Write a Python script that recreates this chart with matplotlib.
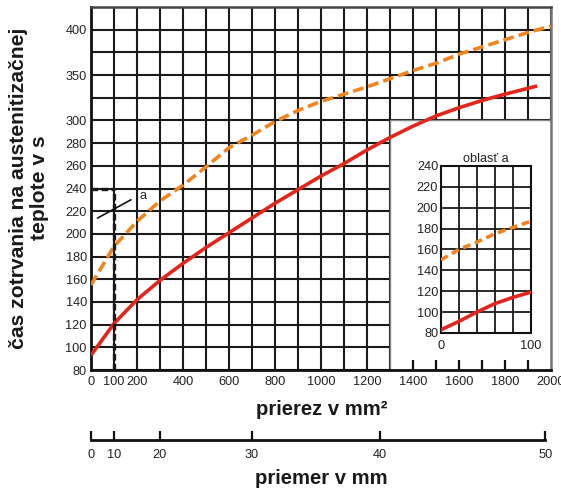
import numpy as np
import matplotlib
matplotlib.use('Agg')
import matplotlib.pyplot as plt
from matplotlib.patches import Rectangle

plt.rcParams['font.family'] = ['Liberation Sans', 'DejaVu Sans']

# --- data ---
# prierez (mm^2) vs cas zotrvania (s)
prierez_red = [0, 100, 200, 300, 400, 500, 600, 700, 800, 900, 1000,
               1100, 1200, 1300, 1400, 1500, 1600, 1700, 1800, 1940]
cas_red = [93, 121, 142, 159, 174, 188, 201, 214, 227, 239, 251,
           262, 274, 285, 295, 305, 314, 322, 329, 338]

prierez_orange = [0, 100, 200, 300, 400, 500, 600, 700, 800, 900, 1000,
                  1100, 1200, 1300, 1400, 1500, 1600, 1700, 1800, 1900, 2000]
cas_orange = [155, 189, 211, 229, 243, 259, 276, 287, 299, 311, 321,
              329, 337, 346, 355, 363, 373, 381, 389, 397, 404]

# oblast a (detail 0..100 mm^2)
detail_x = [0, 20, 40, 60, 80, 100]
detail_red = [83, 91, 100, 108, 114, 119]
detail_orange = [150, 160, 167, 175, 181, 187]

# reading example for 100 mm^2
odcitanie_x = 100
odcitanie_y = 240

# tick labels
x_major = [0, 100, 200, 400, 600, 800, 1000, 1200, 1400, 1600, 1800, 2000]
x_minor = [300, 500, 700, 900, 1100, 1300, 1500, 1700, 1900]
y_major = [80, 100, 120, 140, 160, 180, 200, 220, 240, 260, 280, 300, 350, 400]
y_minor = [325, 375]
priemer = [0, 10, 20, 30, 40, 50]
priemer_pos = [0, 100, 300, 700, 1255, 1975]   # position on prierez axis

RED = '#e2261c'
ORANGE = '#f0841f'
GRID = '#1a1a1a'
FS = 9.2


# y axis: 20 s per row up to 300, then 25 s per row
def fwd(v):
    v = np.asarray(v, dtype=float)
    return np.where(v <= 300, (v - 80) / 20.0, 11 + (v - 300) / 25.0)


def inv(r):
    r = np.asarray(r, dtype=float)
    return np.where(r <= 11, 80 + 20.0 * r, 300 + 25.0 * (r - 11))


fig = plt.figure(figsize=(5.61, 4.91), dpi=100)
ax = fig.add_axes([0.1622, 0.2464, 0.820, 0.7393])
ax.set_yscale('function', functions=(fwd, inv))
ax.set_xlim(0, 2000)
ax.set_ylim(80, 425)
ax.set_axisbelow(True)

ax.set_xticks(x_major)
ax.set_xticks(x_minor, minor=True)
ax.set_yticks(y_major)
ax.set_yticks(y_minor, minor=True)
ax.set_yticklabels([str(v) for v in y_major])
ax.set_xticklabels([str(v) for v in x_major])
ax.tick_params(which='both', length=0, labelsize=FS, colors='#222')
ax.tick_params(axis='x', pad=4)
ax.tick_params(axis='y', pad=3)
ax.grid(True, which='both', color=GRID, lw=1.5)

for s in ['left', 'bottom']:
    ax.spines[s].set_linewidth(2)
    ax.spines[s].set_color('#111')
ax.spines['top'].set_color('#444')
ax.spines['top'].set_linewidth(1.8)
ax.spines['right'].set_color('#777')
ax.spines['right'].set_linewidth(1.8)

# white area for the detail
ax.add_patch(Rectangle((1300, 80), 700, 220, facecolor='white',
                       edgecolor='#888', lw=1, zorder=1))

ax.plot(prierez_red, cas_red, color=RED, lw=2.6, zorder=3,
        solid_capstyle='butt')
ax.plot(prierez_orange, cas_orange, color=ORANGE, lw=2.6, zorder=3,
        dashes=(3.0, 1.4))

# reading example
ax.plot([odcitanie_x, odcitanie_x], [80, odcitanie_y], color=GRID, lw=2.4,
        dashes=(2.0, 1.0), zorder=4)
ax.plot([0, odcitanie_x], [odcitanie_y, odcitanie_y], color=GRID, lw=2.4,
        dashes=(2.0, 1.0), zorder=4)
ax.plot([29, 173], [214, 230], color='#111', lw=1.2, zorder=4)
ax.text(227, 233, 'a', fontsize=FS, ha='center', va='center', color='#222')

# inward ticks on the bottom of the white area
box = ax.inset_axes([1300, 80, 700, 220], transform=ax.transData)
box.set_facecolor('none')
box.set_xlim(1300, 2000)
box.set_xticks(range(1400, 2000, 100))
box.set_yticks([])
box.tick_params(axis='x', direction='in', length=7, width=1.6,
                labelbottom=False, color='#111')
for s in box.spines.values():
    s.set_visible(False)

# detail "oblast a"
ins = fig.add_axes([0.786, 0.322, 0.160, 0.340])
ins.set_xlim(0, 100)
ins.set_ylim(80, 240)
ins.set_xticks(detail_x)
ins.set_xticklabels(['0', '', '', '', '', '100'])
ins.set_yticks(range(80, 241, 20))
ins.tick_params(length=0, labelsize=FS, colors='#222')
ins.tick_params(axis='x', pad=5)
ins.tick_params(axis='y', pad=2)
ins.grid(True, color=GRID, lw=1.3)
ins.set_axisbelow(True)
for s in ins.spines.values():
    s.set_linewidth(1.5)
    s.set_color('#111')
ins.plot(detail_x, detail_red, color=RED, lw=2.6, zorder=3)
ins.plot(detail_x, detail_orange, color=ORANGE, lw=2.6, zorder=3,
         dashes=(2.2, 1.3))
ins.set_title('oblasť a', fontsize=FS, pad=3, color='#222')

# second axis: priemer
ax2 = fig.add_axes([0.1622, 0.1029, 0.820, 0.0001])
ax2.set_xlim(0, 2000)
ax2.set_yticks([])
for s in ['top', 'left', 'right']:
    ax2.spines[s].set_visible(False)
ax2.spines['bottom'].set_linewidth(2)
ax2.spines['bottom'].set_color('#111')
ax2.spines['bottom'].set_bounds(0, priemer_pos[-1])
ax2.set_xticks(priemer_pos)
ax2.set_xticklabels([str(d) for d in priemer])
ax2.tick_params(axis='x', direction='in', length=6.5, width=1.6,
                labelsize=FS, pad=6, color='#111', labelcolor='#222')
ax2.patch.set_visible(False)

# axis titles
fig.text(0.573, 0.155, 'prierez v mm²', fontsize=14.6, fontweight='bold',
         ha='center', va='baseline', color='#1a1a1a')
fig.text(0.573, 0.0143, 'priemer v mm', fontsize=14.6, fontweight='bold',
         ha='center', va='baseline', color='#1a1a1a')
fig.text(0.052, 0.617, 'čas zotrvania na austenitizačnej\nteplote v s',
         fontsize=15.2, fontweight='bold', rotation=90, ha='center',
         va='center', multialignment='center', linespacing=1.1,
         color='#1a1a1a')

fig.savefig('out.png', dpi=100)
